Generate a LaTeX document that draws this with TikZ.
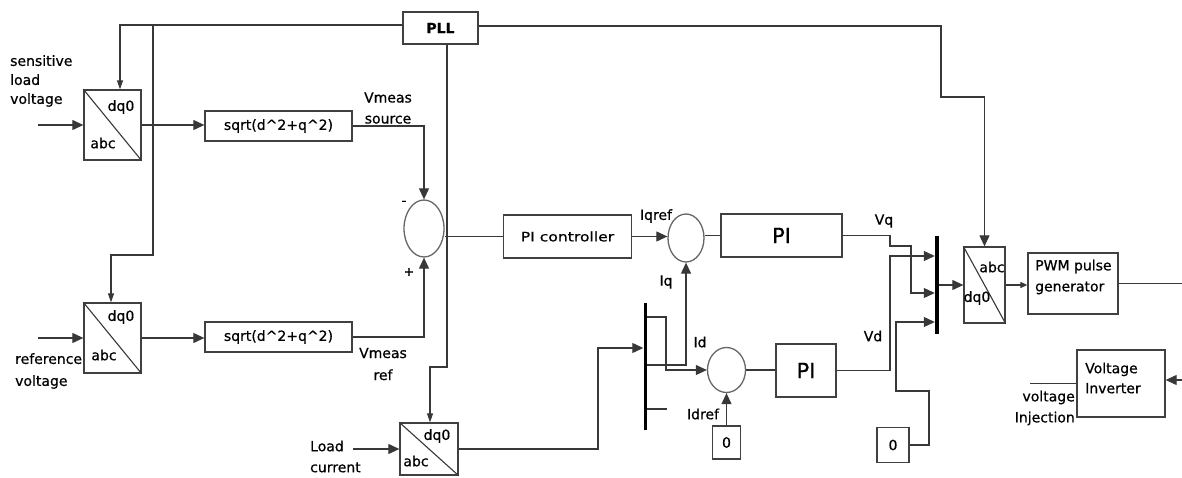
\documentclass[tikz,border=0pt]{standalone}
\usepackage{graphicx}
\usepackage{fontspec}
\setmainfont{DejaVu Sans}[FakeBold=0.6]
\usetikzlibrary{arrows.meta,shapes.geometric}
\begin{document}
\begin{tikzpicture}[x=1pt,y=-1pt,
  line/.style={draw=black!78, line width=1.1pt},
  arr/.style={line, -{Triangle[length=11pt,width=10pt]}},
  arrs/.style={line, -{Triangle[length=9pt,width=6pt]}},
  arrt/.style={line, -{Triangle[length=7pt,width=6pt]}},
  box/.style={draw=black!75, line width=1.3pt, rectangle, inner sep=0pt},
  sumc/.style={ellipse, draw=black!60, line width=1.3pt, inner sep=0pt},
  bar/.style={fill=black, inner sep=0pt},
  txt/.style={font=\fontsize{14}{19}\selectfont, inner sep=0pt, text=black},
  big/.style={font=\fontsize{21}{24}\selectfont, inner sep=0pt, text=black},
]
\fill[white] (0,0) rectangle (1182,478);
\useasboundingbox (0,0) rectangle (1182,478);

% ---------- blocks ----------
\node[box, font=\fontsize{14}{18}\selectfont\bfseries, minimum width=75pt, minimum height=32pt] (pll) at (440.5,28) {PLL};

\node[box, minimum width=57pt, minimum height=70pt] (b1) at (112.5,125) {};
\node[box, minimum width=57pt, minimum height=70pt] (b2) at (112.5,338) {};
\node[box, minimum width=58pt, minimum height=52pt] (b3) at (429,449) {};
\node[box, minimum width=41pt, minimum height=76pt] (b4) at (984.5,285) {};
\draw[line] (b1.north west) -- (b1.south east);
\draw[line] (b2.north west) -- (b2.south east);
\draw[line] (b3.north west) -- (b3.south east);
\draw[line] (b4.north west) -- (b4.south east);
\node[txt] (b1t) at (121,107) {dq0};
\node[txt] (b1b) at (103,143) {abc};
\node[txt] (b2t) at (121,317) {dq0};
\node[txt] (b2b) at (104,355) {abc};
\node[txt] (b3t) at (437,436) {dq0};
\node[txt] (b3b) at (416,461) {abc};
\node[txt] (b4t) at (992,267) {abc};
\node[txt] (b4b) at (977,298) {dq0};

\node[box, minimum width=147pt, minimum height=30pt, txt] (sq1) at (278.5,126) {sqrt(d\textasciicircum 2+q\textasciicircum 2)};
\node[box, minimum width=147pt, minimum height=30pt, txt] (sq2) at (278.5,337) {sqrt(d\textasciicircum 2+q\textasciicircum 2)};

\node[sumc, minimum width=40pt, minimum height=57pt] (s1) at (424,228.5) {};
\node[box, minimum width=128pt, minimum height=43pt, font=\fontsize{13}{16}\selectfont] (pic) at (567.5,236.5) {\scalebox{1.2}[1]{PI controller}};
\node[sumc, minimum width=36pt, minimum height=48pt] (s2) at (686,238) {};
\node[box, minimum width=121pt, minimum height=43pt, big] (pi1) at (781.5,235.5) {PI};
\node[sumc, minimum width=38pt, minimum height=45pt] (s3) at (726.5,370) {};
\node[box, minimum width=60pt, minimum height=53pt, big] (pi2) at (806,370.5) {PI};
\node[box, minimum width=28pt, minimum height=33pt, txt] (z1) at (726.5,442.5) {0};
\node[box, minimum width=32pt, minimum height=35pt, txt] (z2) at (893,445) {0};

\node[bar, minimum width=4pt, minimum height=98pt] (mux) at (937,285) {};
\node[bar, minimum width=3pt, minimum height=127pt] (demux) at (645,366.5) {};

\node[box, minimum width=90pt, minimum height=61pt] (pwm) at (1073,283.5) {};
\node[txt, anchor=west, align=left, font=\fontsize{14}{21}\selectfont] (pwmt) at (1035,277) {PWM pulse\\generator};
\node[box, minimum width=88pt, minimum height=67pt] (inv) at (1121,383.5) {};
\node[txt, anchor=west, align=left, font=\fontsize{14}{20}\selectfont] (invt) at (1085,378) {Voltage\\Inverter};

% ---------- labels ----------
\node[txt, anchor=west, align=left] (lsens) at (10,81) {sensitive\\load\\voltage};
\node[txt, anchor=west, align=left, font=\fontsize{14}{22}\selectfont] (lref) at (15,371) {reference\\voltage};
\node[txt, anchor=west, align=left, font=\fontsize{14}{21}\selectfont] (lload) at (310,456.5) {Load\\current};
\node[txt, align=center, font=\fontsize{14}{21}\selectfont] (lvs) at (388,108) {Vmeas\\source};
\node[txt, align=center, font=\fontsize{14}{22}\selectfont] (lvr) at (383,364) {Vmeas\\ref};
\node[txt] (lminus) at (404,203) {-};
\node[txt, font=\fontsize{12}{14}\selectfont\bfseries] (lplus) at (409,272) {+};
\node[txt] (liqref) at (656,216) {Iqref};
\node[txt] (liq) at (666,282) {Iq};
\node[txt] (lid) at (700,342) {Id};
\node[txt] (lidref) at (703,414) {Idref};
\node[txt] (lvq) at (884,221) {Vq};
\node[txt] (lvd) at (873,336) {Vd};
\node[txt, anchor=east, align=right, font=\fontsize{14}{21}\selectfont] (linj) at (1075,408) {voltage\\Injection};

% ---------- coordinates ----------
\coordinate (in1) at (38,125);
\coordinate (in2) at (38,338);
\coordinate (in3) at (353,449);
\coordinate (j1) at (153,25);
\coordinate (j2) at (153,255);
\coordinate (j3) at (447,367);
\coordinate (j4) at (941,97);
\coordinate (k3) at (598,348);
\coordinate (o1) at (666,317);
\coordinate (o2) at (685,365);
\coordinate (o3) at (667,409);
\coordinate (v1) at (890,246);
\coordinate (v2) at (911,293);
\coordinate (v3) at (890,256);
\coordinate (v4) at (929,391);
\coordinate (v5) at (896,322);
\coordinate (out1) at (1182,284);
\coordinate (in4) at (1182,380);
\coordinate (out2) at (1030,382);

% ---------- connectors ----------
\draw[arr] (in1) -- (in1 -| b1.west);
\draw[arr] (in2) -- (in2 -| b2.west);
\draw[arr] (in3) -- (in3 -| b3.west);
\draw[arrs] ([yshift=3pt]pll.west) -| (b1.north -| 120,0);
\draw[arrs] (j1) -- (j2) -| (b2.north -| 111,0);
\draw[arrs] (pll.south -| j3) -- (j3) -| (b3.north -| 430,0);
\draw[arr] ([yshift=2pt]pll.east) -| (j4) -| (b4.north);

\draw[arr] (b1.east) -- (b1.east -| sq1.west);
\draw[arr] (b2.east) -- (b2.east -| sq2.west);
\draw[arr] (sq1.east) -| (s1.north);
\draw[arr] (sq2.east) -| (s1.south);
\draw[line] (pic.west -| s1.east) -- (pic.west);
\draw[arr] (pic.east) -- (pic.east -| s2.west);
\draw[line] (pi1.west -| s2.east) -- (pi1.west);

\draw[arr] (b3.east) -| (k3) -- (k3 -| demux.west);
\draw[arr] (o1 -| demux.east) -- (o1) |- (s3.west);
\draw[arr] (o2 -| demux.east) -| (s2.south);
\draw[line] (o3 -| demux.east) -- (o3);
\draw[arr] (z1.north) -- (s3.south);
\draw[line] (s3.east) -- (s3.east -| pi2.west);

\draw[arr] (pi1.east) -| (v1) -| (v2) -- (v2 -| mux.west);
\draw[arr] (pi2.east) -| (v3) -- (v3 -| mux.west);
\draw[arr] (z2.east) -| (v4) -| (v5) -- (v5 -| mux.west);
\draw[arr] (mux.east) -- (mux.east -| b4.west);
\draw[arrt] (b4.east) -- (b4.east -| pwm.west);
\draw[line] (pwm.east) -- (pwm.east -| out1);
\draw[arr] (in4) -- (in4 -| inv.east);
\draw[line] (inv.west) -- (inv.west -| out2);
\end{tikzpicture}
\end{document}
